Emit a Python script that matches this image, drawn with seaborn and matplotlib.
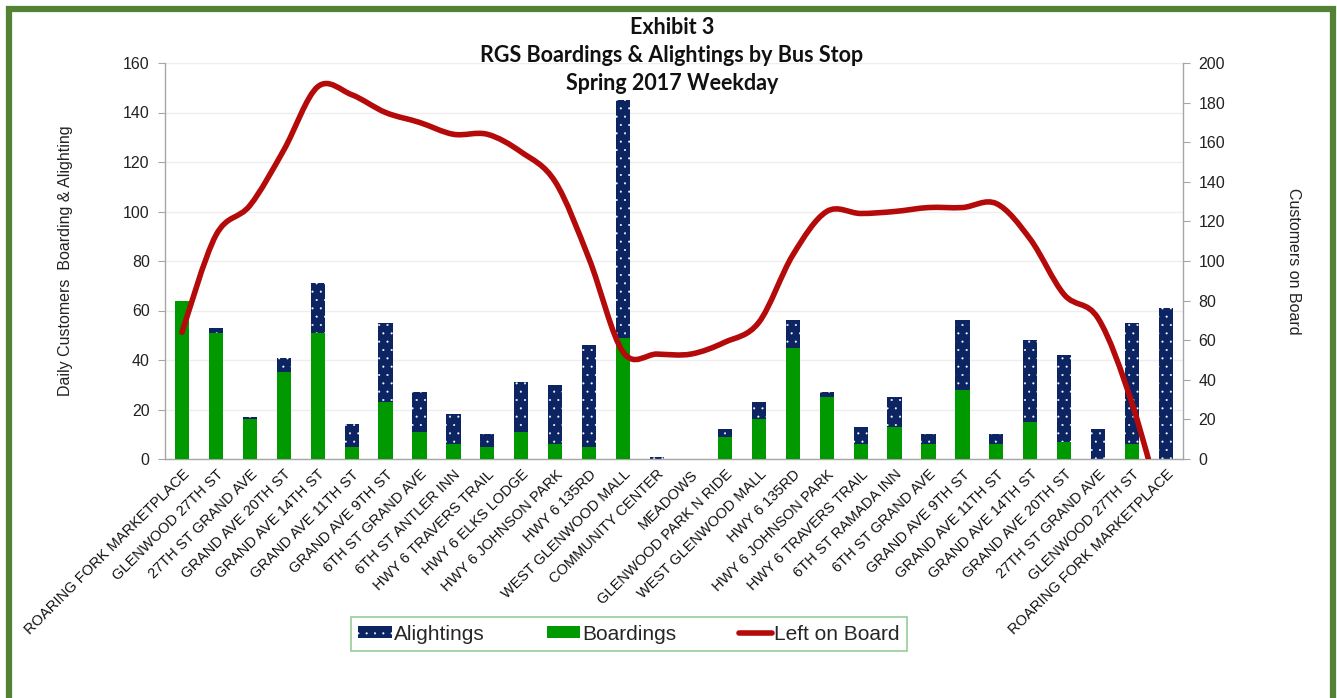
import numpy as np
import pandas as pd
import matplotlib
matplotlib.use("Agg")
import matplotlib.pyplot as plt
import seaborn as sns
from matplotlib.path import Path
from matplotlib.patches import PathPatch, Rectangle, Patch
from matplotlib.lines import Line2D

stops = [
    "ROARING FORK MARKETPLACE", "GLENWOOD 27TH ST", "27TH ST GRAND AVE",
    "GRAND AVE 20TH ST", "GRAND AVE 14TH ST", "GRAND AVE 11TH ST",
    "GRAND AVE 9TH ST", "6TH ST GRAND AVE", "6TH ST ANTLER INN",
    "HWY 6 TRAVERS TRAIL", "HWY 6 ELKS LODGE", "HWY 6 JOHNSON PARK",
    "HWY 6 135RD", "WEST GLENWOOD MALL", "COMMUNITY CENTER", "MEADOWS",
    "GLENWOOD PARK N RIDE", "WEST GLENWOOD MALL", "HWY 6 135RD",
    "HWY 6 JOHNSON PARK", "HWY 6 TRAVERS TRAIL", "6TH ST RAMADA INN",
    "6TH ST GRAND AVE", "GRAND AVE 9TH ST", "GRAND AVE 11TH ST",
    "GRAND AVE 14TH ST", "GRAND AVE 20TH ST", "27TH ST GRAND AVE",
    "GLENWOOD 27TH ST", "ROARING FORK MARKETPLACE",
]
boardings = [64, 51, 16, 35, 51, 5, 23, 11, 6, 5, 11, 6, 5, 49, 0, 0,
             9, 16, 45, 25, 6, 13, 6, 28, 6, 15, 7, 0, 6, 0]
alightings = [0, 2, 1, 6, 20, 9, 32, 16, 12, 5, 20, 24, 41, 96, 1, 0,
              3, 7, 11, 2, 7, 12, 4, 28, 4, 33, 35, 12, 49, 61]
left_on_board = [64, 113, 128, 156, 188, 184, 175, 170, 164, 164, 155, 140,
                 101, 54, 53, 53, 59, 69, 103, 125, 124, 125, 127, 127, 129,
                 111, 83, 71, 28, -33]

NAVY = "#0c2461"
GREEN = "#009a00"
RED = "#b40a0a"
FRAME = "#548235"
GREY = "#a6a6a6"

sns.set_style("white")
plt.rcParams["font.family"] = ["Liberation Sans", "DejaVu Sans"]
plt.rcParams["hatch.color"] = "white"
plt.rcParams["hatch.linewidth"] = 0.25

df = pd.DataFrame({
    "pos": list(range(len(stops))),
    "stop": stops,
    "boardings": boardings,
    "alightings": alightings,
})
df["total"] = df["boardings"] + df["alightings"]

W, H = 1337, 698
fig = plt.figure(figsize=(W / 100, H / 100), dpi=100)
ax = fig.add_axes([165 / W, 1 - 459 / H, (1183 - 165) / W, (459 - 63) / H])

sns.barplot(data=df, x="pos", y="total", color=NAVY, width=0.42,
            saturation=1, hatch="..", edgecolor="white", linewidth=0,
            ax=ax, zorder=2)
sns.barplot(data=df, x="pos", y="boardings", color=GREEN, width=0.42,
            saturation=1, linewidth=0, ax=ax, zorder=3)

ax.set_xlim(-0.5, len(stops) - 0.5)
ax.set_ylim(0, 160)
ax.set_yticks(range(0, 161, 20))
ax.yaxis.grid(True, color="#eeeeee", linewidth=1)
ax.set_axisbelow(True)
ax.set_xticks(range(len(stops)))
ax.set_xticklabels(stops, rotation=45, ha="right", rotation_mode="anchor",
                   fontsize=10.5, color="#111111")
ax.set_xticks(np.arange(-0.5, len(stops), 1.0), minor=True)
ax.tick_params(axis="x", which="major", length=0, pad=6)
ax.tick_params(axis="x", which="minor", length=5, color=GREY, direction="out")
ax.tick_params(axis="y", length=5, color=GREY, direction="out",
               labelsize=11.5, labelcolor="#222222", pad=6)
ax.set_xlabel("")
ax.set_ylabel("Daily Customers  Boarding & Alighting", fontsize=11.5,
              color="#222222", labelpad=36)
for s in ["top", "right"]:
    ax.spines[s].set_visible(False)
for s in ["left", "bottom"]:
    ax.spines[s].set_color(GREY)
    ax.spines[s].set_linewidth(1)

ax2 = ax.twinx()
ax2.set_ylim(0, 200)
ax2.set_yticks(range(0, 201, 20))
ax2.tick_params(axis="y", length=5, color=GREY, direction="out",
                labelsize=11.5, labelcolor="#222222", pad=6)
for s in ["top", "left", "bottom"]:
    ax2.spines[s].set_visible(False)
ax2.spines["right"].set_color(GREY)
ax2.spines["right"].set_linewidth(1)
ax2.set_ylabel("Customers on Board", fontsize=11.5, color="#222222",
               rotation=-90, labelpad=55)

# smoothed (Catmull-Rom style, as in the original spreadsheet) line
xs = np.arange(len(left_on_board), dtype=float)
ys = np.array(left_on_board, dtype=float)
pts = np.column_stack([xs, ys])
verts = [tuple(pts[0])]
codes = [Path.MOVETO]
n = len(pts)
for i in range(n - 1):
    p0 = pts[i - 1] if i > 0 else pts[i]
    p1 = pts[i]
    p2 = pts[i + 1]
    p3 = pts[i + 2] if i + 2 < n else pts[i + 1]
    c1 = p1 + (p2 - p0) / 6.0
    c2 = p2 - (p3 - p1) / 6.0
    verts += [tuple(c1), tuple(c2), tuple(p2)]
    codes += [Path.CURVE4] * 3
curve = PathPatch(Path(verts, codes), facecolor="none", edgecolor=RED,
                  linewidth=4.0, capstyle="round", joinstyle="round",
                  transform=ax2.transData, zorder=5)
ax2.add_patch(curve)

# title
title_font = dict(ha="center", va="center", fontsize=15.5, fontweight="bold",
                  family=["Lato", "DejaVu Sans"], color="#111111")
fig.text(672 / W, 1 - 27 / H, "Exhibit 3", **title_font)
fig.text(672 / W, 1 - 55 / H, "RGS Boardings & Alightings by Bus Stop",
         **title_font)
fig.text(672 / W, 1 - 83 / H, "Spring 2017 Weekday", **title_font)

# legend
handles = [
    Patch(facecolor=NAVY, edgecolor="white", hatch="..", linewidth=0,
          label="Alightings"),
    Patch(facecolor=GREEN, linewidth=0, label="Boardings"),
    Line2D([0], [0], color=RED, linewidth=4, label="Left on Board"),
]
leg = fig.legend(handles=handles, loc="center",
                 bbox_to_anchor=(629 / W, 1 - 634 / H), ncol=3,
                 frameon=True, fancybox=False, fontsize=15,
                 handlelength=1.6, handleheight=0.5, handletextpad=0.1,
                 columnspacing=3.0, borderpad=0.35, borderaxespad=0)
leg.get_frame().set_edgecolor("#7cc07c")
leg.get_frame().set_linewidth(1.2)

# outer green frame
fig.patches.append(Rectangle((8.5 / W, -0.05), (1333 - 8.5) / W,
                             1.05 - 9.5 / H, transform=fig.transFigure,
                             fill=False, edgecolor=FRAME, linewidth=4.5,
                             zorder=10))

fig.savefig("out.png", dpi=100, facecolor="white")
